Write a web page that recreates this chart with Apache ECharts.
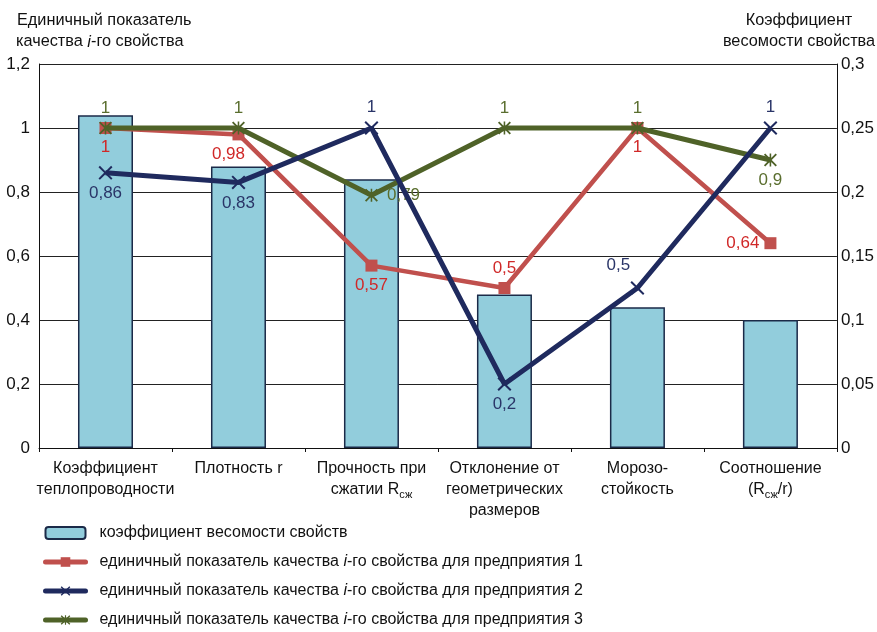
<!DOCTYPE html>
<html><head><meta charset="utf-8">
<script src="https://cdn.jsdelivr.net/npm/echarts@6/dist/echarts.min.js"></script>
<style>html,body{margin:0;padding:0;background:#fff}#c{width:877px;height:632px}</style>
</head><body><div id="c"></div>
<script>
const FONT = "'Liberation Sans', Arial, sans-serif";
const categories = [
  "Коэффициент\nтеплопроводности",
  "Плотность r",
  "Прочность при\nсжатии R{sub|сж}",
  "Отклонение от\nгеометрических\nразмеров",
  "Морозо-\nстойкость",
  "Соотношение\n(R{sub|сж}/r)"
];
const weights = [0.26, 0.22, 0.21, 0.12, 0.11, 0.10];
const ent1 = [1, 0.98, 0.57, 0.5, 1, 0.64];
const ent2 = [0.86, 0.83, 1, 0.2, 0.5, 1];
const ent3 = [1, 1, 0.79, 1, 1, 0.9];
const leftTicks = ["0", "0,2", "0,4", "0,6", "0,8", "1", "1,2"];
const rightTicks = ["0", "0,05", "0,1", "0,15", "0,2", "0,25", "0,3"];
const pos1 = ["bottom", "bottom", "bottom", "top", "bottom", "left"];
const pos2 = ["bottom", "bottom", "top", "bottom", "top", "top"];
const pos3 = ["top", "top", "right", "top", "top", "bottom"];
const names = [
  "коэффициент весомости свойств",
  "единичный показатель качества i-го свойства для предприятия 1",
  "единичный показатель качества i-го свойства для предприятия 2",
  "единичный показатель качества i-го свойства для предприятия 3"
];

const fmt = v => String(v).replace('.', ',');
const C_RED = '#C0504D', C_NAVY = '#1F2A5E', C_GREEN = '#4F6228';
const X_PATH = 'path://M0,1 L1,0 L5,4 L9,0 L10,1 L6,5 L10,9 L9,10 L5,6 L1,10 L0,9 L4,5 Z';
const STAR_PATH = 'path://M0,1 L1,0 L5,4 L9,0 L10,1 L6,5 L10,9 L9,10 L5,6 L1,10 L0,9 L4,5 Z M4.4,0 L5.6,0 L5.6,10 L4.4,10 Z';

function pts(vals, positions, extra) {
  return vals.map((v, i) => ({
    value: v,
    label: Object.assign({ position: positions[i] }, (extra && extra[i]) || {})
  }));
}

const chart = echarts.init(document.getElementById('c'), null, { renderer: 'canvas' });
const labelBase = { show: true, fontFamily: FONT, fontSize: 17, distance: 5, formatter: p => fmt(p.value) };
const TF = '16.3px ' + FONT;

chart.setOption({
  animation: false,
  textStyle: { fontFamily: FONT },
  grid: { left: 39, right: 35, top: 64, bottom: 184 },
  graphic: [
    { type: 'text', left: 17, top: 13, style: { text: 'Единичный показатель', font: TF, fill: '#111' } },
    { type: 'text', left: 16, top: 34, style: { text: '{n|качества }{i|i}{n|-го свойства}', rich: { n: { font: TF, fill: '#111' }, i: { font: 'italic ' + TF, fill: '#111' } } } },
    { type: 'text', x: 799, y: 13, style: { text: 'Коэффициент', font: TF, fill: '#111', align: 'center' } },
    { type: 'text', x: 799, y: 34, style: { text: 'весомости свойства', font: TF, fill: '#111', align: 'center' } }
  ],
  legend: {
    orient: 'vertical', left: 43, top: 525, padding: 0, itemGap: 13, itemWidth: 40, itemHeight: 12,
    data: [names[0], names[1], names[2], names[3]],
    lineStyle: { width: 5, cap: 'round' },
    textStyle: { fontFamily: FONT, fontSize: 16, color: '#111',
      rich: { p: { width: 9 }, n: { fontFamily: FONT, fontSize: 16, color: '#111', lineHeight: 18 }, i: { fontFamily: FONT, fontSize: 16, fontStyle: 'italic', color: '#111', lineHeight: 18 } } },
    formatter: name => {
      const parts = name.split(' i-го ');
      if (parts.length === 2) return '{p| }{n|' + parts[0] + ' }{i|i}{n|-го ' + parts[1] + '}';
      return '{p| }{n|' + name + '}';
    }
  },
  xAxis: {
    type: 'category', data: categories,
    axisLine: { lineStyle: { color: '#111', width: 1 } },
    axisTick: { show: true, length: 4, lineStyle: { color: '#111' } },
    axisLabel: {
      interval: 0, fontFamily: FONT, fontSize: 16, color: '#111', lineHeight: 21, margin: 10,
      rich: { sub: { fontFamily: FONT, fontSize: 11, color: '#111', verticalAlign: 'bottom', lineHeight: 14, padding: [6, 0, 0, 0] } }
    }
  },
  yAxis: [
    { type: 'value', min: 0, max: 1.2, interval: 0.2,
      axisLine: { show: true, lineStyle: { color: '#111' } },
      axisTick: { show: false },
      splitLine: { lineStyle: { color: '#222', width: 1 } },
      axisLabel: { fontFamily: FONT, fontSize: 17, color: '#111', margin: 9, formatter: v => leftTicks[Math.round(v / 0.2)] } },
    { type: 'value', min: 0, max: 0.3, interval: 0.05,
      axisLine: { show: true, lineStyle: { color: '#111' } },
      axisTick: { show: false },
      splitLine: { show: false },
      axisLabel: { fontFamily: FONT, fontSize: 17, color: '#111', margin: 4, formatter: v => rightTicks[Math.round(v / 0.05)] } }
  ],
  series: [
    { name: names[0], type: 'bar', yAxisIndex: 1, data: weights, barWidth: 55,
      itemStyle: { color: '#92CDDC', borderColor: '#1B2A48', borderWidth: 1.5 }, z: 2 },
    { name: names[1], type: 'line', yAxisIndex: 0, data: pts(ent1, pos1, { 1: { offset: [-10, 0] } }), z: 3,
      lineStyle: { color: C_RED, width: 4.5 }, itemStyle: { color: C_RED },
      symbol: 'rect', symbolSize: 12, showAllSymbol: true,
      label: Object.assign({}, labelBase, { color: '#D02828' }) },
    { name: names[3], type: 'line', yAxisIndex: 0, data: pts(ent3, pos3, { 2: { distance: 9 } }), z: 4,
      lineStyle: { color: C_GREEN, width: 5 }, itemStyle: { color: C_GREEN },
      symbol: STAR_PATH, symbolSize: 13,
      label: Object.assign({}, labelBase, { color: '#5A6E2E' }) },
    { name: names[2], type: 'line', yAxisIndex: 0, data: pts(ent2, pos2, { 4: { offset: [-19, -2] } }), z: 5,
      lineStyle: { color: C_NAVY, width: 5 }, itemStyle: { color: C_NAVY },
      symbol: X_PATH, symbolSize: 14,
      label: Object.assign({}, labelBase, { color: '#2A3568' }) }
  ]
});
</script></body></html>
